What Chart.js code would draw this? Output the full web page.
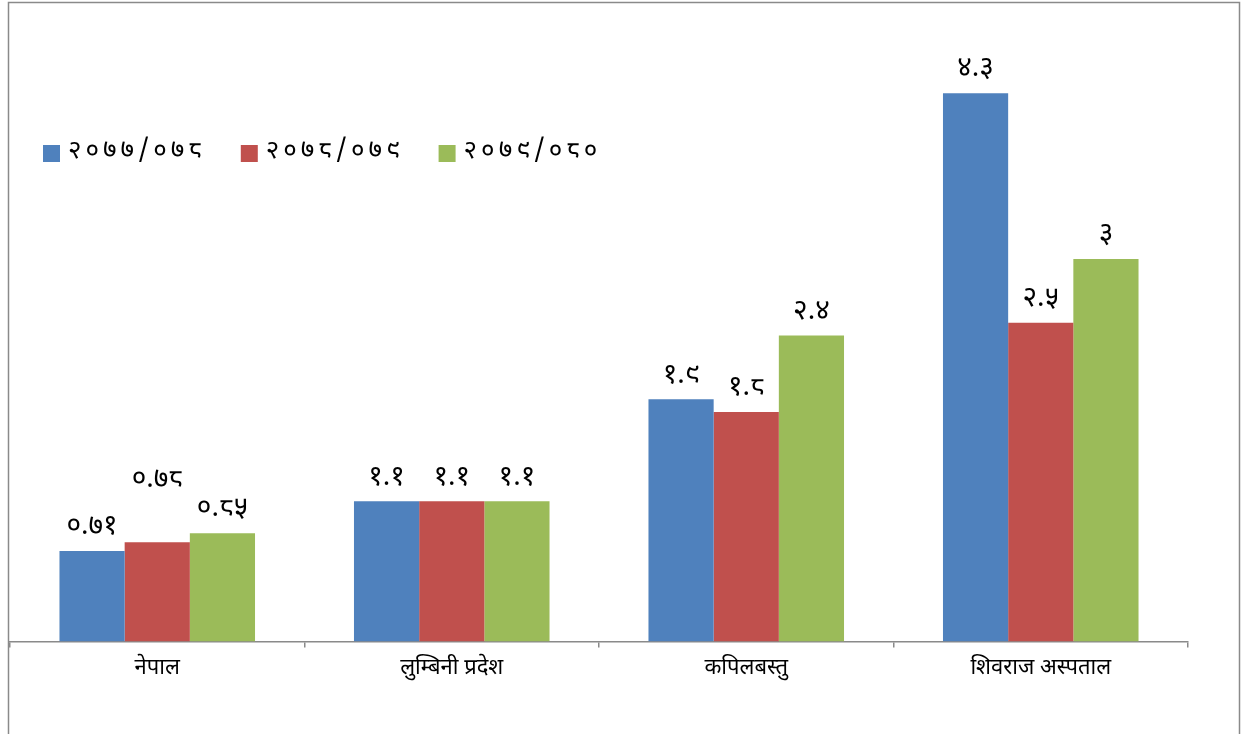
<!DOCTYPE html>
<html lang="ne">
<head>
<meta charset="UTF-8">
<title>तुलनात्मक चार्ट</title>
<script src="https://cdn.jsdelivr.net/npm/chart.js@4.4.1/dist/chart.umd.min.js"></script>
<style>
  html, body { margin: 0; padding: 0; background: #fff; }
  #wrap { position: relative; width: 1244px; height: 734px; }
</style>
</head>
<body>
<div id="wrap"><canvas id="bars"></canvas></div>
<script>
// data
const categories = ['नेपाल', 'लुम्बिनी प्रदेश', 'कपिलबस्तु', 'शिवराज अस्पताल'];
const years = ['२०७७/०७८', '२०७८/०७९', '२०७९/०८०'];
const vals7778 = [0.71, 1.1, 1.9, 4.3];
const vals7879 = [0.78, 1.1, 1.8, 2.5];
const vals7980 = [0.85, 1.1, 2.4, 3];
const colours = ['#4F81BD', '#C0504D', '#9BBB59'];

const FONT = 'Mangal, Kokila, "Noto Sans Devanagari", "Noto Sans", sans-serif';
const devDigits = '०१२३४५६७८९';
function toDev(n) {
  return String(n).replace(/[0-9]/g, d => devDigits[d]);
}

// value labels above each bar
const barLabels = {
  id: 'barLabels',
  afterDatasetsDraw(chart) {
    const ctx = chart.ctx;
    ctx.save();
    ctx.font = '28px ' + FONT;
    ctx.fillStyle = '#000';
    ctx.textAlign = 'center';
    ctx.textBaseline = 'bottom';
    chart.data.datasets.forEach((ds, i) => {
      chart.getDatasetMeta(i).data.forEach((bar, j) => {
        const extra = (ds.extraLift && ds.extraLift[j]) || 0;
        ctx.fillText(toDev(ds.data[j]), bar.x, bar.y - 8 - extra);
      });
    });
    ctx.restore();
  }
};

// legend sits inside the plot, upper left
const innerLegend = {
  id: 'innerLegend',
  afterDraw(chart) {
    const ctx = chart.ctx;
    ctx.save();
    ctx.font = '26px ' + FONT;
    ctx.letterSpacing = '4px';
    ctx.textBaseline = 'middle';
    let x = 43;
    const y = 153;
    chart.data.datasets.forEach(ds => {
      ctx.fillStyle = ds.backgroundColor;
      ctx.fillRect(x, y - 8, 17, 17);
      ctx.fillStyle = '#000';
      ctx.fillText(ds.label, x + 25, y);
      x += 25 + ctx.measureText(ds.label).width + 35;
    });
    ctx.restore();
  }
};

// frame round the whole chart
const frame = {
  id: 'frame',
  afterDraw(chart) {
    const ctx = chart.ctx;
    ctx.save();
    ctx.strokeStyle = '#8a8a8a';
    ctx.lineWidth = 1.5;
    ctx.strokeRect(8.5, 2.5, 1231, 760);
    ctx.restore();
  }
};

const chart = new Chart(document.getElementById('bars'), {
  type: 'bar',
  data: {
    labels: categories,
    datasets: [
      { label: years[0], data: vals7778, backgroundColor: colours[0] },
      { label: years[1], data: vals7879, backgroundColor: colours[1], extraLift: [38, 0, 0, 0] },
      { label: years[2], data: vals7980, backgroundColor: colours[2] }
    ]
  },
  options: {
    responsive: true,
    maintainAspectRatio: false,
    animation: false,
    categoryPercentage: 0.664,
    barPercentage: 1,
    layout: { padding: { left: 10, right: 56, top: 4, bottom: 42 } },
    plugins: {
      legend: { display: false },
      tooltip: { enabled: false }
    },
    scales: {
      x: {
        grid: {
          offset: true,
          drawOnChartArea: false,
          drawTicks: true,
          tickLength: 6,
          color: '#8a8a8a',
          lineWidth: 1.5
        },
        border: { color: '#8a8a8a', width: 1.5 },
        ticks: {
          padding: 9,
          color: '#000',
          font: { family: FONT, size: 22 }
        }
      },
      y: {
        display: false,
        min: 0,
        max: 5
      }
    }
  },
  plugins: [barLabels, innerLegend, frame]
});
</script>
</body>
</html>
